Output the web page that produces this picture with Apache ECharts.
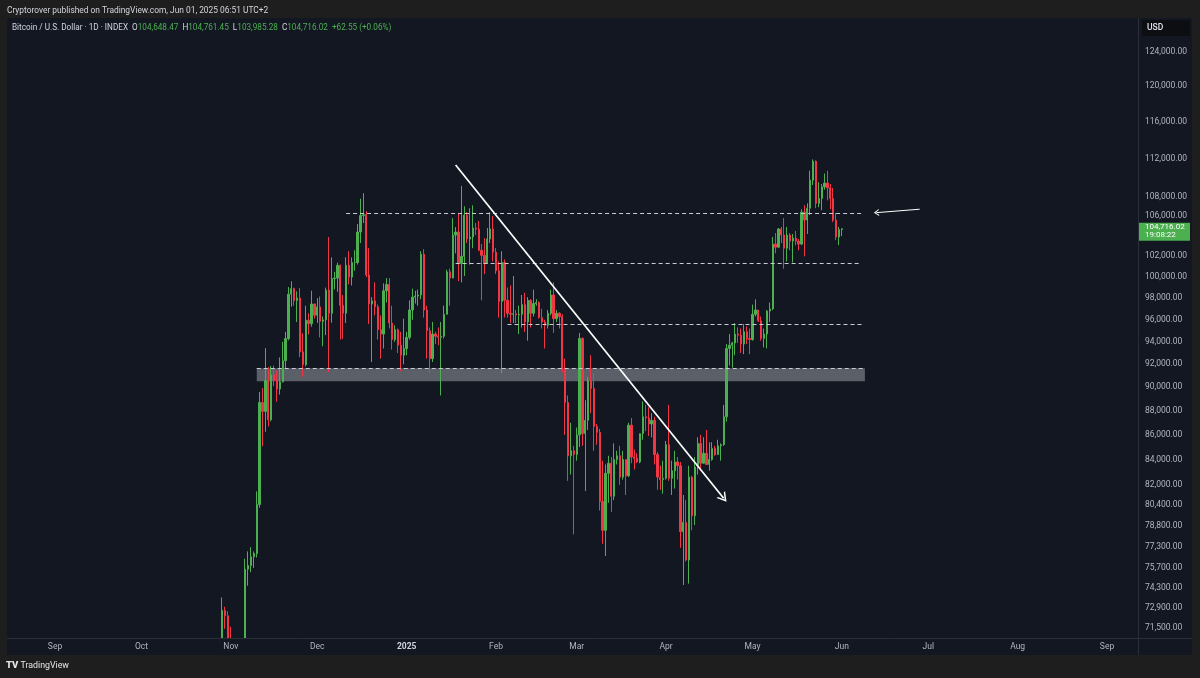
<!DOCTYPE html>
<html>
<head>
<meta charset="utf-8" />
<title>Bitcoin / U.S. Dollar · 1D</title>
<script src="https://cdn.jsdelivr.net/npm/echarts@6.0.0/dist/echarts.min.js"></script>
<style>
  html, body { margin: 0; padding: 0; background: #1e1e1e; }
  #chart { width: 1200px; height: 678px; }
</style>
</head>
<body>
<div id="chart"></div>
<script type="text/javascript">
// daily candles, 2024-10-29 .. 2025-06-01 (one per day)
var firstDay = "2024-10-29";
var opens = [
  69920, 72720, 72340,
  70220, 69480, 69360, 68740, 67810, 69360, 75640, 75900, 76540, 76780, 80470, 88700, 87950, 90580, 87250,
  91060, 90580, 89850, 90470, 92310, 94290, 98380, 98900, 97780, 98010, 93100, 91970, 95960, 95640, 97460,
  96410, 97190, 95860, 96000, 98760, 96600, 99850, 99900, 101130, 97330, 96600, 101130, 100000, 101400, 101400,
  104400, 106060, 106140, 100200, 97460, 97750, 97200, 95100, 94700, 98700, 99300, 95700, 94200, 95100, 93700, 92800,
  93400, 94400, 96900, 98100, 98200, 98300, 102200, 96900, 95000, 92500, 94700, 94500, 94400, 94500, 96500,
  100500, 99900, 104100, 104400, 101300, 102000, 106100, 103700, 103900, 104800, 104700, 102600, 102100, 101300, 103700, 104700,
  102400, 100600, 97700, 101400, 97800, 96600, 96500, 96550, 96450, 96500, 97400, 95800, 97800, 96600,
  97500, 97600, 96200, 95800, 95500, 96600, 98300, 96100, 96600, 96300, 91600, 88700, 84300, 84700,
  84400, 86000, 94300, 86100, 87200, 90600, 89900, 86700, 86200, 80700, 78500, 82900, 83700, 81100, 84000,
  84300, 82600, 84000, 82700, 86800, 84200, 84100, 83800, 86100, 87500, 87400, 86900, 87200, 84400, 82600, 82400,
  82500, 85200, 82500, 83100, 83800, 83500, 78400, 79100, 76300, 82600, 79600, 83400, 85300, 83700, 84500,
  83600, 84000, 84900, 84400, 85100, 85200, 87500, 93400, 93700, 93900, 94700, 94600, 93800, 94900, 94300,
  94200, 96500, 96900, 95900, 94300, 94700, 96800, 97000, 103200, 102900, 104700, 104100, 102800, 104100, 103500,
  103800, 103500, 103200, 106400, 105600, 106800, 109700, 111700, 107300, 107800, 109000, 109400, 108900, 107800, 105600, 103900,
  104648.47
];
var highs = [
  73620, 72970, 72660,
  71590, 69920, 69400, 69000, 70530, 76400, 76940, 77250, 76930, 81480, 89600, 89940, 93430, 91760, 91850,
  91870, 91460, 92600, 94000, 94900, 99050, 99590, 98990, 98640, 98950, 94770, 97300, 96600, 98700, 97470,
  98000, 98150, 96300, 99000, 103900, 101900, 100500, 101380, 101200, 98300, 101900, 102500, 101900, 102600, 105200,
  107780, 108350, 106500, 102800, 98100, 99500, 97400, 96400, 99400, 99900, 99900, 97300, 95500, 95200, 94900, 96100,
  94900, 97800, 98900, 98700, 98800, 102500, 102700, 97300, 95300, 95800, 94900, 95300, 95800, 97300, 100700,
  100800, 105800, 104900, 106300, 109100, 107000, 106400, 106800, 107100, 105300, 105500, 103200, 103800, 104800, 106400, 106000,
  102800, 101500, 102500, 101700, 99000, 99200, 100100, 96900, 97300, 98300, 98500, 98100, 97900, 98800,
  97900, 97700, 97000, 96000, 96900, 98800, 99500, 96900, 96700, 96500, 92500, 89300, 87000, 85100,
  86600, 94800, 94400, 88900, 90900, 92800, 91200, 86900, 86500, 83900, 83600, 84300, 84200, 85300, 84700,
  85100, 84700, 84000, 87000, 87400, 84800, 84500, 86100, 88800, 88500, 88300, 87800, 87500, 84600, 83500, 83900,
  85500, 88500, 83900, 84700, 84200, 83800, 81200, 80800, 83500, 82700, 84200, 85800, 86000, 85800, 86400,
  85400, 85400, 85100, 85600, 85300, 88500, 93800, 94700, 94000, 95700, 95300, 95200, 95600, 95400, 95200,
  97400, 97900, 96900, 96300, 95200, 96900, 97600, 103900, 104300, 104800, 104900, 105800, 104900, 104300, 104200,
  104500, 103700, 106700, 107100, 107300, 110700, 111900, 111800, 109500, 109300, 110400, 110700, 109300, 108900, 106300, 104900,
  104761.45
];
var lows = [
  69760, 71450, 69590,
  68780, 68810, 67460, 66830, 67460, 69050, 74450, 75420, 75730, 76490, 80220, 85070, 86250, 86700, 87120,
  90100, 88770, 89380, 90420, 91600, 94130, 97210, 97300, 95800, 92640, 90910, 91820, 94650, 95370, 96110,
  95710, 94400, 93600, 94600, 91300, 95730, 98830, 98600, 94200, 94250, 95700, 99300, 99200, 100600, 101200,
  103300, 105300, 100000, 95600, 92200, 96400, 94200, 92500, 93400, 97600, 95200, 93300, 94000, 93000, 91400, 92000,
  92800, 94200, 96000, 97500, 97300, 97900, 96200, 92500, 91200, 92200, 93800, 93700, 89300, 94300, 96500,
  97300, 99900, 102300, 99600, 99500, 100100, 103300, 101200, 102800, 104100, 102500, 97800, 100300, 101300, 103300, 101500,
  100300, 96200, 91200, 96200, 96200, 95700, 95700, 95700, 94700, 95300, 94900, 94100, 95300, 96300,
  97300, 96100, 95200, 93400, 95200, 96400, 94800, 95800, 95200, 91300, 86000, 82300, 82800, 78200,
  83900, 85000, 85100, 81500, 86400, 87800, 84700, 85200, 80000, 77500, 76600, 80600, 79900, 80800, 83600,
  82000, 82400, 81200, 82600, 83700, 83200, 83700, 83700, 85600, 86300, 85900, 85800, 83600, 81600, 81600, 81300,
  82400, 82300, 81200, 81700, 82400, 77200, 74500, 76200, 74600, 78500, 78900, 82800, 83100, 83700, 83600,
  83100, 83900, 84300, 84400, 83900, 85100, 87100, 91900, 91700, 92800, 93900, 93000, 92900, 93800, 92900,
  94100, 96300, 95800, 94100, 93500, 93400, 95800, 96900, 102300, 102800, 103300, 100800, 101500, 102600, 101400,
  103100, 102600, 103100, 102000, 104200, 106100, 109200, 106800, 106900, 106600, 108700, 107600, 106700, 105400, 103600, 103100,
  103985.28
];
var closes = [
  72720, 72340, 70220,
  69480, 69360, 68740, 67810, 69360, 75640, 75900, 76540, 76780, 80470, 88700, 87950, 90580, 87250, 91060,
  90580, 89850, 90470, 92310, 94290, 98380, 98900, 97780, 98010, 93100, 91970, 95960, 95640, 97460, 96410,
  97190, 95860, 96000, 98760, 96600, 99850, 99900, 101130, 97330, 96600, 101130, 100000, 101400, 101400, 104400,
  106060, 106140, 100200, 97460, 97750, 97200, 95100, 94700, 98700, 99300, 95700, 94200, 95100, 93700, 92800, 93400,
  94400, 96900, 98100, 98200, 98300, 102200, 96900, 95000, 92500, 94700, 94500, 94400, 94500, 96500, 100500,
  99900, 104100, 104400, 101300, 102000, 106100, 103700, 103900, 104800, 104700, 102600, 102100, 101300, 103700, 104700, 102400,
  100600, 97700, 101400, 97800, 96600, 96500, 96550, 96450, 96500, 97400, 95800, 97800, 96600, 97500,
  97600, 96200, 95800, 95500, 96600, 98300, 96100, 96600, 96300, 91600, 88700, 84300, 84700, 84400,
  86000, 94300, 86100, 87200, 90600, 89900, 86700, 86200, 80700, 78500, 82900, 83700, 81100, 84000, 84300,
  82600, 84000, 82700, 86800, 84200, 84100, 83800, 86100, 87500, 87400, 86900, 87200, 84400, 82600, 82400, 82500,
  85200, 82500, 83100, 83800, 83500, 78400, 79100, 76300, 82600, 79600, 83400, 85300, 83700, 84500, 83600,
  84000, 84900, 84400, 85100, 85200, 87500, 93400, 93700, 93900, 94700, 94600, 93800, 94900, 94300, 94200,
  96500, 96900, 95900, 94300, 94700, 96800, 97000, 103200, 102900, 104700, 104100, 102800, 104100, 103500, 103800,
  103500, 103200, 106400, 105600, 106800, 109700, 111700, 107300, 107800, 109000, 109400, 108900, 107800, 105600, 103900, 104653.47,
  104716.02
];

// price axis labels (log scale)
var priceTicks = [124000, 120000, 116000, 112000, 108000, 106000, 102000, 100000, 98000, 96000, 94000,
  92000, 90000, 88000, 86000, 84000, 82000, 80400, 78800, 77300, 75700, 74300, 72900, 71500];
var priceMin = 70824, priceMax = 127850;
var monthNames = ["Jan", "Feb", "Mar", "Apr", "May", "Jun", "Jul", "Aug", "Sep", "Oct", "Nov", "Dec"];
var countdown = "19:08:22";

// drawings: [start date, start price, end date, end price]
var levelLines = [
  ["2024-12-11", 106300, "2025-06-08", 106300],
  ["2025-01-18", 101350, "2025-06-07", 101350],
  ["2025-02-05", 95600, "2025-06-08", 95600],
  ["2024-11-10", 91660, "2025-06-09", 91660]
];
var zoneBox = ["2024-11-10", 91660, "2025-06-09", 90530];
var trendLine = ["2025-01-18", 111300, "2025-04-21", 80950];
var noteArrow = ["2025-06-28", 106700, "2025-06-13", 106350];

var UP = "#4caf50", DOWN = "#f23645";
var FONT = "Roboto, 'Noto Sans', sans-serif";
var DAY = 86400000;

function day(s) {
  var p = s.split("-");
  return Date.UTC(+p[0], +p[1] - 1, +p[2]);
}
function fmtPrice(v) {
  return v.toLocaleString("en-US", { minimumFractionDigits: 2, maximumFractionDigits: 2 });
}

var t0 = day(firstDay);
var candles = [];
for (var i = 0; i < closes.length; i++) {
  candles.push([t0 + i * DAY, Math.log(opens[i]), Math.log(closes[i]), Math.log(lows[i]), Math.log(highs[i])]);
}
var monthTicks = [];
for (var m = 0; m <= 12; m++) monthTicks.push(Date.UTC(2024, 8 + m, 1));

var chevron = "path://M0,10 L5,0 L10,10 L8.4,10 L5,3.2 L1.6,10 Z";

function pt(d, p) { return { coord: [day(d), Math.log(p)] }; }

var markLines = levelLines.map(function (l) {
  return [pt(l[0], l[1]), pt(l[2], l[3])];
});
var tl = [pt(trendLine[0], trendLine[1]), pt(trendLine[2], trendLine[3])];
tl[0].lineStyle = { color: "#ffffff", width: 1.7, type: "solid" };
tl[1].symbol = chevron; tl[1].symbolSize = [11, 9];
markLines.push(tl);
var na = [pt(noteArrow[0], noteArrow[1]), pt(noteArrow[2], noteArrow[3])];
na[0].lineStyle = { color: "#ffffff", width: 1, type: "solid", curveness: 0.25 };
na[1].symbol = chevron; na[1].symbolSize = [7, 5];
markLines.push(na);

var last = closes.length - 1;
var change = closes[last] - closes[last - 1];

var legendText = "{t|Bitcoin / U.S. Dollar · 1D · INDEX}  " +
  "{k|O}{v|" + fmtPrice(opens[last]) + "}  {k|H}{v|" + fmtPrice(highs[last]) + "}  " +
  "{k|L}{v|" + fmtPrice(lows[last]) + "}  {k|C}{v|" + fmtPrice(closes[last]) + "}  " +
  "{v|+" + change.toFixed(2) + " (+" + (change / closes[last - 1] * 100).toFixed(2) + "%)}";

var graphics = [
  { type: "rect", silent: true, z: -10, shape: { x: 7, y: 18, width: 1185, height: 637 }, style: { fill: "#131722" } },
  { type: "line", silent: true, z: -5, shape: { x1: 1138.5, y1: 18, x2: 1138.5, y2: 655 }, style: { stroke: "#2a2e39", lineWidth: 1 } },
  // the time scale strip and the page below it sit over the candles that run off the bottom
  { type: "rect", silent: true, z: 5, shape: { x: 7, y: 639, width: 1131, height: 16 }, style: { fill: "#131722" } },
  { type: "rect", silent: true, z: 5, shape: { x: 0, y: 655, width: 1200, height: 23 }, style: { fill: "#1e1e1e" } },
  { type: "line", silent: true, z: 6, shape: { x1: 7, y1: 638.5, x2: 1192, y2: 638.5 }, style: { stroke: "#2a2e39", lineWidth: 1 } },
  { type: "rect", silent: true, z: -4, shape: { x: 1142, y: 20, width: 48, height: 16 }, style: { fill: "#0d0e12" } },
  { type: "text", silent: true, x: 1147, y: 28, style: { text: "USD", fill: "#e0e3eb", font: "500 8.5px " + FONT, verticalAlign: "middle" } },
  { type: "text", silent: true, x: 7, y: 11, style: { text: "Cryptorover published on TradingView.com, Jun 01, 2025 06:51 UTC+2", fill: "#d1d4dc", font: "8.4px " + FONT, verticalAlign: "middle" } },
  {
    type: "text", silent: true, x: 12, y: 28,
    style: {
      text: legendText, verticalAlign: "middle", font: "8.2px " + FONT,
      rich: {
        t: { fill: "#d1d4dc", fontSize: 8.2, fontFamily: FONT },
        k: { fill: "#d1d4dc", fontSize: 8.2, fontFamily: FONT },
        v: { fill: UP, fontSize: 8.2, fontFamily: FONT }
      }
    }
  },
  { type: "text", silent: true, z: 6, x: 6, y: 666, style: { text: "{l|TV} TradingView", verticalAlign: "middle", font: "8.8px " + FONT, fill: "#e6e6e6",
    rich: { l: { fontWeight: 900, fontSize: 9.5, fill: "#e6e6e6", fontFamily: FONT } } } }
];

var chart = echarts.init(document.getElementById("chart"));
chart.setOption({
  animation: false,
  backgroundColor: "#1e1e1e",
  grid: { left: 8, right: 62, top: 20, bottom: 40, outerBoundsMode: "none" },
  graphic: graphics,
  xAxis: {
    type: "value",
    z: 10,
    min: Date.UTC(2024, 7, 15, 16, 38),
    max: Date.UTC(2025, 8, 11, 18, 4),
    axisLine: { show: false },
    axisTick: { show: false },
    splitLine: { show: false },
    axisLabel: {
      customValues: monthTicks,
      margin: 4,
      color: "#b2b5be",
      fontFamily: FONT,
      fontSize: 8.5,
      formatter: function (v) {
        var d = new Date(v);
        if (d.getUTCMonth() === 0) return "{y|" + d.getUTCFullYear() + "}";
        return monthNames[d.getUTCMonth()];
      },
      rich: { y: { fontWeight: "bold", color: "#d1d4dc", fontSize: 8.5, fontFamily: FONT } }
    }
  },
  yAxis: {
    type: "value",
    position: "right",
    min: Math.log(priceMin),
    max: Math.log(priceMax),
    axisLine: { show: false },
    axisTick: { show: false },
    splitLine: { show: false },
    axisLabel: {
      customValues: priceTicks.map(function (p) { return Math.log(p); }),
      margin: 7,
      color: "#b2b5be",
      fontFamily: FONT,
      fontSize: 8.5,
      formatter: function (v) { return fmtPrice(Math.round(Math.exp(v) / 100) * 100); }
    }
  },
  series: [{
    type: "candlestick",
    data: candles,
    encode: { x: 0, y: [1, 2, 3, 4] },
    barWidth: 1.8,
    clip: false,
    emphasis: { disabled: true },
    itemStyle: { color: UP, color0: DOWN, borderColor: UP, borderColor0: DOWN, borderWidth: 1 },
    markArea: {
      silent: true,
      itemStyle: { color: "rgba(140,143,152,0.6)" },
      data: [[pt(zoneBox[0], zoneBox[1]), pt(zoneBox[2], zoneBox[3])]]
    },
    markLine: {
      silent: true,
      animation: false,
      symbol: ["none", "none"],
      label: { show: false },
      lineStyle: { color: "#c9ccd4", width: 1, type: [4, 3] },
      emphasis: { disabled: true },
      data: markLines
    }
  }]
});

// last price tag on the price scale, placed through the y axis
var py = chart.convertToPixel({ yAxisIndex: 0 }, Math.log(closes[last]));
chart.setOption({
  graphic: graphics.concat([
    { type: "rect", silent: true, z: 8, shape: { x: 1139, y: py - 6, width: 51, height: 18 }, style: { fill: UP } },
    { type: "text", silent: true, z: 9, x: 1145, y: py - 1.7, style: { text: fmtPrice(closes[last]), fill: "#ffffff", font: "8px " + FONT, verticalAlign: "middle" } },
    { type: "text", silent: true, z: 9, x: 1145, y: py + 6.6, style: { text: countdown, fill: "#ffffff", font: "8px " + FONT, verticalAlign: "middle" } }
  ])
});
</script>
</body>
</html>
